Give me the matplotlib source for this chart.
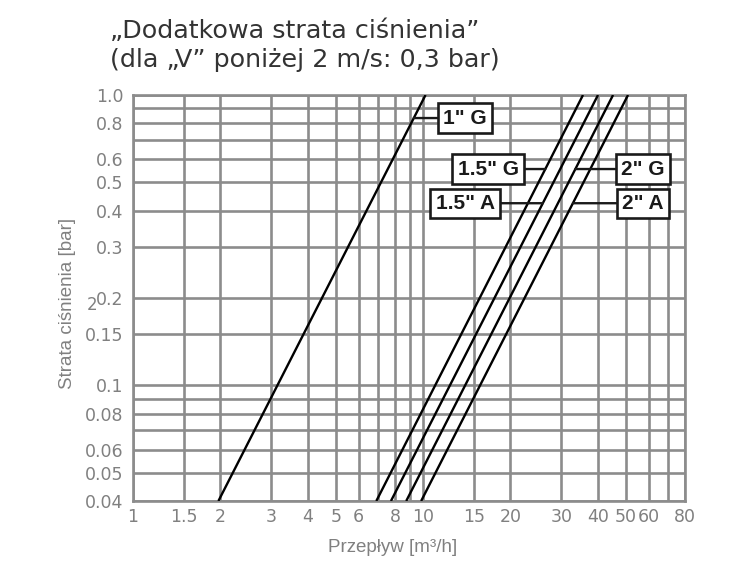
import numpy as np
import matplotlib
matplotlib.use('Agg')
import matplotlib.pyplot as plt

# flow [m3/h] where each valve line hits 0.04 bar and 1.0 bar
names = ['1" G', '1.5" G', '1.5" A', '2" G', '2" A']
flow_at_004 = [1.97, 6.9, 7.75, 8.75, 9.85]
flow_at_1 = [10.2, 35.6, 40.1, 45.2, 50.9]
p_ends = [0.04, 1.0]

# label boxes (flow, pressure)
label_flow = [13.96, 16.75, 13.96, 57.4, 57.4]
label_p = [0.833, 0.556, 0.424, 0.556, 0.424]

x_grid = [1, 1.5, 2, 3, 4, 5, 6, 7, 8, 9, 10, 15, 20, 30, 40, 50, 60, 70, 80]
x_labels = ['1', '1.5', '2', '3', '4', '5', '6', '', '8', '', '10', '15', '20',
            '30', '40', '50', '60', '', '80']
y_grid = [0.04, 0.05, 0.06, 0.07, 0.08, 0.09, 0.1, 0.15, 0.2, 0.3, 0.4, 0.5,
          0.6, 0.7, 0.8, 0.9, 1.0]
y_labels = ['0.04', '0.05', '0.06', '', '0.08', '', '0.1', '0.15', '0.2', '0.3',
            '0.4', '0.5', '0.6', '', '0.8', '', '1.0']

grid_col = '#8c8c8c'
label_col = '#808080'

fig = plt.figure(figsize=(7.5, 5.62), dpi=100)
ax = fig.add_axes([133 / 750, 1 - 501 / 562, 552 / 750, 406 / 562])
ax.set_xscale('log')
ax.set_yscale('log')
ax.set_xlim(1, 80)
ax.set_ylim(0.04, 1.0)

ax.set_xticks(x_grid)
ax.set_xticklabels(x_labels)
ax.set_yticks(y_grid)
ax.set_yticklabels(y_labels)
ax.minorticks_off()
ax.tick_params(length=0, labelsize=12.5, labelcolor=label_col)
ax.tick_params(axis='x', pad=5)
ax.tick_params(axis='y', pad=7)
ax.grid(True, color=grid_col, lw=1.9)
ax.set_axisbelow(True)
for s in ax.spines.values():
    s.set_color(grid_col)
    s.set_linewidth(1.9)

for i, name in enumerate(names):
    ax.plot([flow_at_004[i], flow_at_1[i]], p_ends, color='black', lw=1.7,
            solid_capstyle='butt', zorder=3)
    # point on the line at the label height (straight line in log-log)
    k = np.log(flow_at_1[i] / flow_at_004[i]) / np.log(p_ends[1] / p_ends[0])
    q_on_line = flow_at_004[i] * (label_p[i] / p_ends[0]) ** k
    ax.annotate(name, xy=(q_on_line, label_p[i]), xytext=(label_flow[i], label_p[i]),
                ha='center', va='center', fontsize=15, fontweight='bold',
                family=['Liberation Sans', 'DejaVu Sans'], color='#1a1a1a',
                bbox=dict(boxstyle='square,pad=0.25', fc='white', ec='#1a1a1a', lw=1.9),
                arrowprops=dict(arrowstyle='-', color='#1a1a1a', lw=1.7,
                                shrinkA=0, shrinkB=0),
                zorder=4)

ax.set_xlabel('Przepływ [m³/h]', fontsize=13.5, color=label_col,
              family=['Liberation Sans', 'DejaVu Sans'])
ax.set_ylabel('Strata ciśnienia [bar]', fontsize=13.5, color=label_col,
              family=['Liberation Sans', 'DejaVu Sans'])
ax.xaxis.set_label_coords((393 - 133) / 552, -(548 - 501) / 406)
ax.xaxis.label.set_va('center')
ax.yaxis.set_label_coords((68 - 133) / 552, (501 - 303) / 406)
ax.yaxis.label.set_va('center')

fig.text(92 / 750, 1 - 305 / 562, '2', fontsize=12, color=label_col,
         ha='center', va='center')

fig.text(110 / 750, 1 - 38 / 562, '„Dodatkowa strata ciśnienia”', fontsize=18.3,
         color='#333333', ha='left', va='baseline')
fig.text(110 / 750, 1 - 67 / 562, '(dla „V” poniżej 2 m/s: 0,3 bar)', fontsize=18.3,
         color='#333333', ha='left', va='baseline')

fig.savefig('out.png', dpi=100)
